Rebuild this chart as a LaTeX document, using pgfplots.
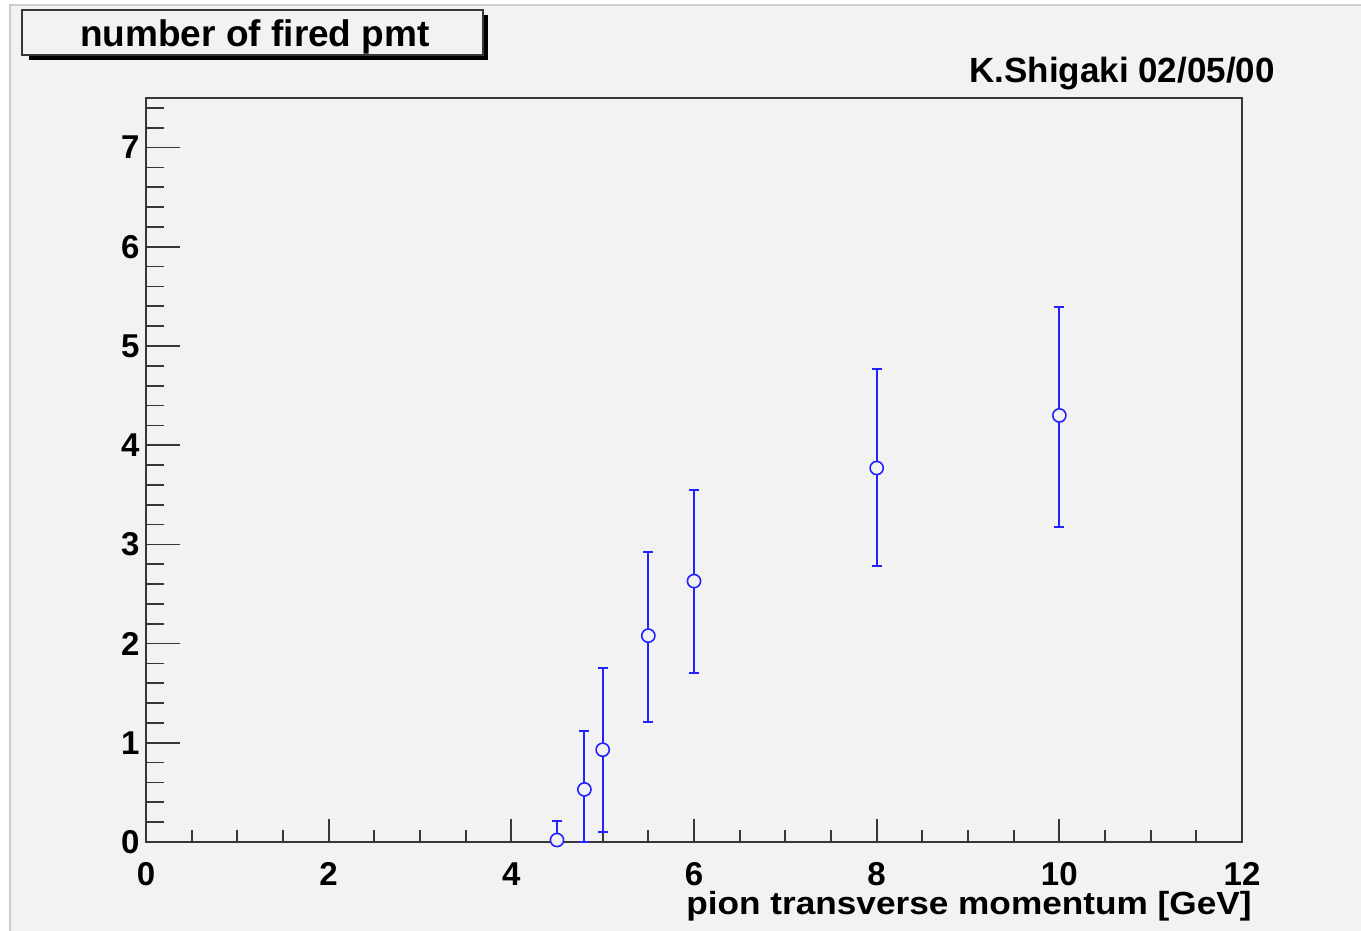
\documentclass[border=0pt]{standalone}
\usepackage{graphicx}
\usepackage{fontspec}
\setmainfont{Liberation Sans}
\usepackage{pgfplots}
\usepackage{pgfplotstable}
\pgfplotsset{compat=1.18}

\definecolor{padgray}{RGB}{242,242,242}
\definecolor{edgegray}{RGB}{205,205,205}
\definecolor{framegray}{RGB}{55,55,55}
\definecolor{rootblue}{RGB}{35,35,255}

% pT [GeV], mean number of fired PMTs, upper / lower error
\pgfplotstableread{
x     y     ep    em
4.5   0.02  0.19  0.02
4.8   0.53  0.59  0.53
5.0   0.93  0.82  0.83
5.5   2.08  0.84  0.87
6.0   2.63  0.92  0.93
8.0   3.77  1.00  0.99
10.0  4.30  1.09  1.12
}\firedpmt

\newcommand{\tickfont}{\fontsize{16.5}{16.5}\selectfont\bfseries}

\begin{document}
\begin{tikzpicture}[x=0.5pt, y=0.5pt]
  % canvas and pad
  \fill[white] (0,0) rectangle (1361,931);
  \useasboundingbox (0,0) rectangle (1361,931);
  \fill[padgray] (10,0) rectangle (1361,926);
  \draw[edgegray, line width=0.6pt] (10,0) -- (10,926) -- (1361,926);

  % main frame with x ticks and all tick labels
  \begin{axis}[
    at={(73pt,44.5pt)}, anchor=south west,
    scale only axis, width=548pt, height=372pt,
    xmin=0, xmax=12, ymin=0, ymax=7.5,
    clip=false,
    axis background/.style={fill=padgray},
    axis line style={draw=framegray, line width=1pt},
    xtick={0,2,...,12},
    minor xtick={0.5,1,...,11.5},
    ytick={0,1,...,7},
    tick align=inside,
    xtick pos=left, ytick pos=left,
    major tick length=11.5pt, minor tick length=6pt,
    xtick style={draw=framegray, line width=0.85pt},
    ytick style={draw=none},
    /pgf/number format/assume math mode=true,
    ticklabel style={font=\tickfont, text=black},
    xticklabel style={anchor=north, inner sep=0pt, yshift=-10pt},
    yticklabel style={anchor=east, inner sep=0pt, xshift=-3pt},
  ]
    \addplot[
      only marks,
      mark=*,
      mark size=3.3pt,
      mark options={draw=rootblue, fill=padgray, line width=0.8pt},
      error bars/.cd,
        y dir=both, y explicit,
        error bar style={draw=rootblue, line width=1pt},
        error mark options={rotate=90, mark size=2.5pt, draw=rootblue, line width=1pt},
    ] table[x=x, y=y, y error plus=ep, y error minus=em] {\firedpmt};
  \end{axis}

  % longer y ticks on the left edge
  \begin{axis}[
    at={(73pt,44.5pt)}, anchor=south west,
    scale only axis, width=548pt, height=372pt,
    xmin=0, xmax=12, ymin=0, ymax=7.5,
    axis line style={draw=none},
    xtick=\empty,
    ytick={0,1,...,7},
    minor ytick={0.2,0.4,...,7.4},
    yticklabels={},
    tick align=inside,
    ytick pos=left,
    major tick length=17pt, minor tick length=9pt,
    ytick style={draw=framegray, line width=0.85pt},
  ]
  \end{axis}

  % title box with shadow
  \fill[black] (29,931-60) rectangle (488,931-15);
  \filldraw[fill=padgray, draw=framegray, line width=0.6pt] (22,931-10) rectangle (483,931-55);
  \node[anchor=base, inner sep=0pt, font=\fontsize{18.5}{18.5}\selectfont\bfseries]
    at (255,931-47) {number of fired pmt};

  % author and date
  \node[anchor=base, inner sep=0pt, font=\fontsize{17.5}{17.5}\selectfont\bfseries]
    at (1122,931-83) {K.Shigaki 02/05/00};

  % x axis title
  \node[anchor=base east, inner sep=0pt, font=\fontsize{16}{16}\selectfont\bfseries]
    at (1252,931-915) {\scalebox{1.1}[1]{pion transverse momentum [GeV]}};
\end{tikzpicture}
\end{document}
